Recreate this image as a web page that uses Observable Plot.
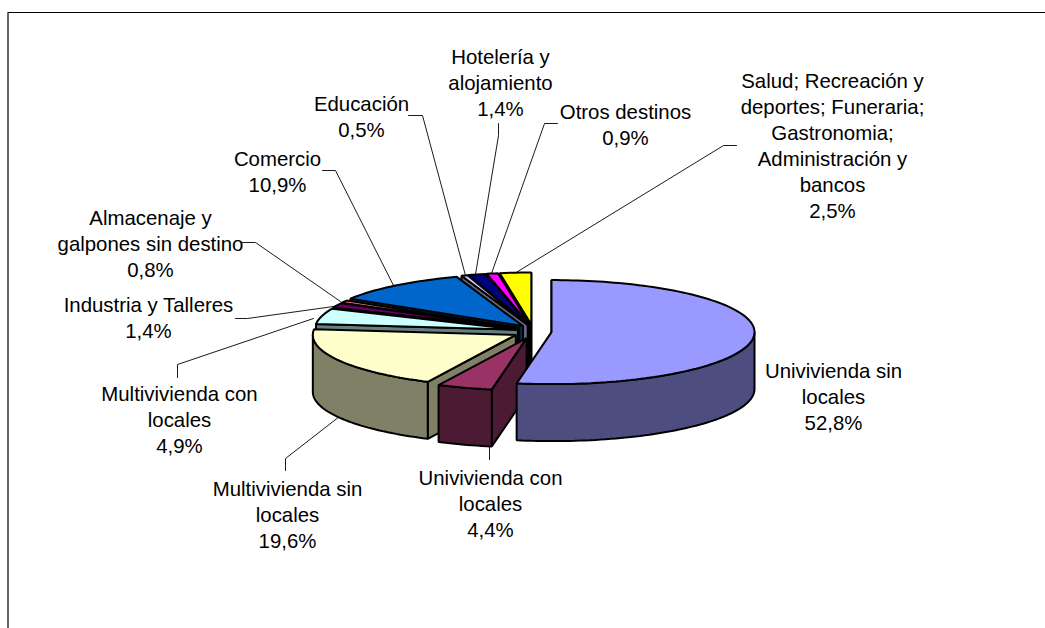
<!DOCTYPE html>
<html>
<head>
<meta charset="utf-8">
<style>html,body{margin:0;padding:0;background:#fff}svg{display:block}</style>
<script src="https://cdn.jsdelivr.net/npm/d3@7"></script>
<script src="https://cdn.jsdelivr.net/npm/@observablehq/plot@0.6"></script>
</head>
<body>
<div id="chart"></div>
<script>
const categories = ["Univivienda sin\nlocales","Univivienda con\nlocales","Multivivienda sin\nlocales","Multivivienda con\nlocales","Industria y Talleres","Almacenaje y\ngalpones sin destino","Comercio","Educación","Hotelería y\nalojamiento","Otros destinos","Salud; Recreación y\ndeportes; Funeraria;\nGastronomia;\nAdministración y\nbancos"];
const shares = [52.8,4.4,19.6,4.9,1.4,0.8,10.9,0.5,1.4,0.9,2.5];
const shareLabels = ["52,8%","4,4%","19,6%","4,9%","1,4%","0,8%","10,9%","0,5%","1,4%","0,9%","2,5%"];
const topColors = ["#9999FF","#993366","#FFFFCC","#CCFFFF","#660066","#FF8080","#0066CC","#CCCCFF","#000080","#FF00FF","#FFFF00"];
const sideColors = ["#4D4D80","#4D1A33","#808066","#668080","#330033","#804040","#003366","#666680","#000040","#800080","#808000"];

// layout of the annotation, in page pixels
const labelAt = [[833,395],[490,502],[287,513],[179,418],[148,316],[150,242],[277,170],[361,115],[500,81],[625,123],[832,144]];
const leaders = [
  [[489,459],[489,446],[475,444]],
  [[285,470],[285,458],[339,416]],
  [[177,377],[177,364],[313,318]],
  [[235,318],[247,318],[333,306]],
  [[242,242],[255,242],[340,301]],
  [[322,170],[335,170],[393,285]],
  [[408,115],[422,115],[465,275]],
  [[498,123],[498,135],[475,274]],
  [[557,123],[544,123],[491,273]],
  [[736,145],[723,145],[514,273]]
];
const W = 1045, H = 628;
const cx = 532, cy = 331, rx = 203, ry = 52, depthPx = 57, explodeFront = 0.094, explodeBack = 0.075, explodeY = 0.135;
const depth = depthPx / ry;
const invX = p => (p - cx) / rx;
const invY = p => (cy - p) / ry;

const total = d3.sum(shares);
let cum = 0;
const slices = shares.map((v, i) => {
  const a0 = cum / total * 360; cum += v; const a1 = cum / total * 360;
  const mid = (a0 + a1) / 2 * Math.PI / 180;
  const ex = i < 3 ? explodeFront : explodeBack;
  return {i, a0, a1, ox: ex * Math.sin(mid), oy: explodeY * Math.cos(mid)};
});
const rad = a => a * Math.PI / 180;
const rimPt = (s, a, drop = 0) => ({x: s.ox + Math.sin(rad(a)), y: s.oy + Math.cos(rad(a)) - drop});
const apexPt = (s, drop = 0) => ({x: s.ox, y: s.oy - drop});
const arc = (s, a0, a1, drop = 0) => {
  const n = Math.max(1, Math.ceil((a1 - a0) / 1.5));
  return d3.range(n + 1).map(k => rimPt(s, a0 + (a1 - a0) * k / n, drop));
};
const polys = [];
const paint = s => {
  const side = sideColors[s.i], top = topColors[s.i];
  const s0 = Math.sin(rad(s.a0)), s1 = Math.sin(rad(s.a1));
  const wall = a => polys.push({fill: side, pts: [apexPt(s), rimPt(s, a), rimPt(s, a, depth), apexPt(s, depth)]});
  if (s0 < 1e-6) wall(s.a0);
  if (s1 > -1e-6) wall(s.a1);
  const f0 = Math.max(s.a0, 90), f1 = Math.min(s.a1, 270);
  if (f1 > f0) polys.push({fill: side, pts: [...arc(s, f0, f1), ...arc(s, f0, f1, depth).reverse()]});
  polys.push({fill: top, pts: [apexPt(s), ...arc(s, s.a0, s.a1)]});
};
// painted from the back of the pie to the front, largest slice last
slices.slice(1).reverse().forEach(paint);
paint(slices[0]);

const labels = categories.map((c, i) => ({text: c + "\n" + shareLabels[i], x: invX(labelAt[i][0]), y: invY(labelAt[i][1])}));

const plot = Plot.plot({
  width: W, height: H, margin: 0,
  x: {domain: [invX(0), invX(W)], range: [0, W], axis: null},
  y: {domain: [invY(H), invY(0)], range: [H, 0], axis: null},
  style: {background: "#fff", fontFamily: "'Liberation Sans', Arial, sans-serif"},
  marks: [
    Plot.line([{x: invX(7.5), y: invY(628)}, {x: invX(7.5), y: invY(12)}, {x: invX(1045), y: invY(12)}], {x: "x", y: "y", stroke: "#000", strokeWidth: 1.2}),
    ...leaders.map(l => Plot.line(l.map(p => ({x: invX(p[0]), y: invY(p[1])})), {x: "x", y: "y", stroke: "#000", strokeWidth: 0.9})),
    ...polys.map(p => Plot.line(p.pts, {x: "x", y: "y", fill: p.fill, stroke: "#000", strokeWidth: 2, strokeLinejoin: "miter", curve: "linear-closed"})),
    Plot.text(labels, {x: "x", y: "y", text: "text", fontSize: 20.4, lineHeight: 1.27, fill: "#000", textAnchor: "middle"})
  ]
});
document.getElementById("chart").append(plot);
</script>
</body>
</html>
